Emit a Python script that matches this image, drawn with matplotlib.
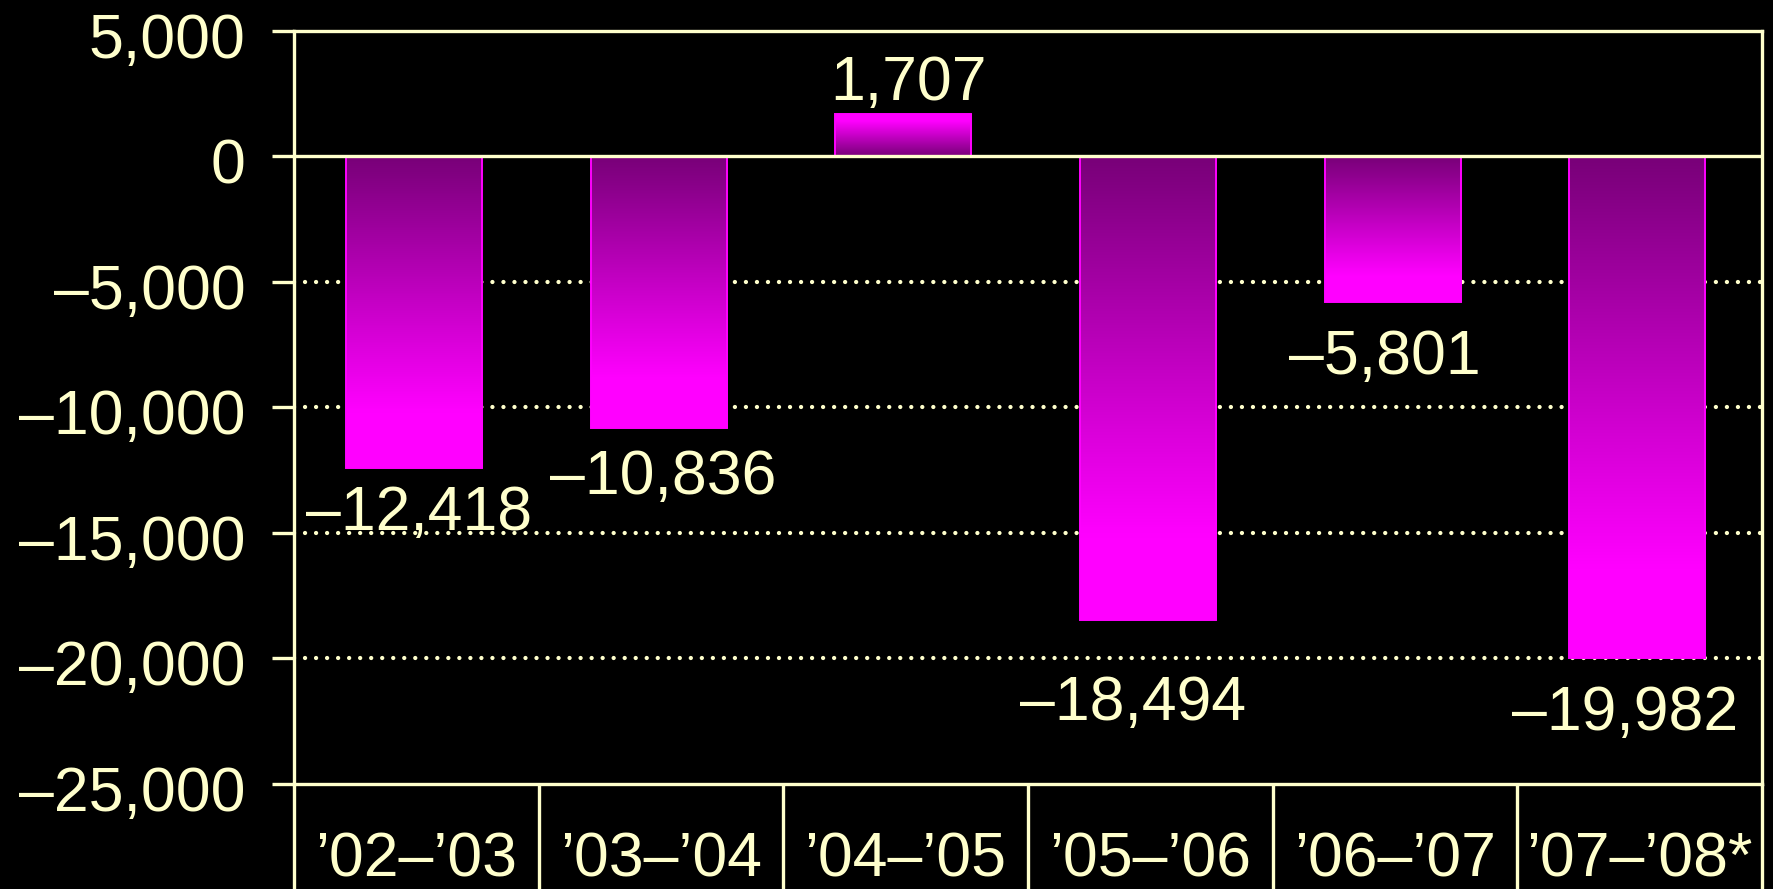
import numpy as np
import matplotlib
matplotlib.use("Agg")
import matplotlib.pyplot as plt
from matplotlib.ticker import FuncFormatter
import matplotlib.transforms as mtransforms

# data
periods = ["\u201902\u2013\u201903", "\u201903\u2013\u201904", "\u201904\u2013\u201905",
           "\u201905\u2013\u201906", "\u201906\u2013\u201907", "\u201907\u2013\u201908*"]
balance = [-12418, -10836, 1707, -18494, -5801, -19982]
y_ticks = [5000, 0, -5000, -10000, -15000, -20000, -25000]
grid_levels = [-5000, -10000, -15000, -20000]

# label nudges in pixels (dx, dy) relative to the bar end
label_nudge = [(3, -62), (2, -66), (3, 14), (-17, -100), (-10, -72), (-15, -72)]

CREAM = "#FFFFCC"
DARK = np.array([0x78, 0x00, 0x78]) / 255
BRIGHT = np.array([0xFF, 0x00, 0xFF]) / 255

plt.rcParams["font.family"] = ["Liberation Sans", "DejaVu Sans"]


def fmt(v, pos=None):
    return f"{v:,.0f}".replace("-", "\u2013")


fig = plt.figure(figsize=(17.73, 8.89), dpi=100, facecolor="black")
ax = fig.add_axes([294 / 1773, (889 - 783.6) / 889, (1762 - 294) / 1773, 752.6 / 889])
ax.set_facecolor("black")

x = np.arange(len(periods))
width = 0.556
bars = ax.bar(x - 0.01, balance, width=width, facecolor="none", edgecolor="#FF00FF",
              linewidth=1.4, zorder=3)

# gradient fill inside each bar, dark near zero, bright at the far end
for rect, v in zip(bars, balance):
    x0 = rect.get_x()
    x1 = x0 + rect.get_width()
    ymin, ymax = min(0, v), max(0, v)
    ys = np.linspace(ymax, ymin, 200)
    t = np.clip(np.abs(ys) / abs(v) / 0.82, 0, 1)
    img = DARK[None, :] + (BRIGHT - DARK)[None, :] * t[:, None]
    im = ax.imshow(img[:, None, :], extent=[x0, x1, ymin, ymax], origin="upper",
                   aspect="auto", zorder=2, interpolation="bilinear")
    im.set_clip_path(rect)

ax.set_xlim(-0.5, len(periods) - 0.5)
ax.set_ylim(-25000, 5000)

# dotted grid
for g in grid_levels:
    ax.axhline(g, color=CREAM, linewidth=3.1, linestyle=(0, (0.01, 2.55)),
               dash_capstyle="round", zorder=1)
ax.axhline(0, color=CREAM, linewidth=2.4, zorder=4)

# spines and ticks
for side in ["left", "right", "top", "bottom"]:
    ax.spines[side].set_color(CREAM)
    ax.spines[side].set_linewidth(2.4)
    ax.spines[side].set_zorder(5)

ax.set_yticks(y_ticks)
ax.yaxis.set_major_formatter(FuncFormatter(fmt))
ax.tick_params(axis="y", colors=CREAM, labelsize=45, length=16, width=2.4, pad=19)
ax.set_xticks([])
shift = mtransforms.ScaledTranslation(0, -4 / 100, fig.dpi_scale_trans)
for lab in ax.get_yticklabels():
    lab.set_transform(lab.get_transform() + shift)

# lower band: left spine, separators and right edge run down to the figure edge
band = mtransforms.blended_transform_factory(ax.transData, ax.transAxes)
for b in np.arange(-0.5, len(periods), 1.0):
    ax.plot([b, b], [0, -0.2], transform=band, color=CREAM, linewidth=2.4,
            clip_on=False, zorder=5, solid_capstyle="butt")

for xi, lab in zip(x, periods):
    ax.text(xi, -0.1241, lab, transform=band, ha="center", va="baseline",
            fontsize=45, color=CREAM)

# value labels
for xi, v, (dx, dy) in zip(x, balance, label_nudge):
    ax.annotate(fmt(v), xy=(xi, v), xytext=(dx, dy), textcoords="offset pixels",
                ha="center", va="baseline", fontsize=45, color=CREAM, zorder=6)

fig.savefig("out.png", dpi=100, facecolor="black")
